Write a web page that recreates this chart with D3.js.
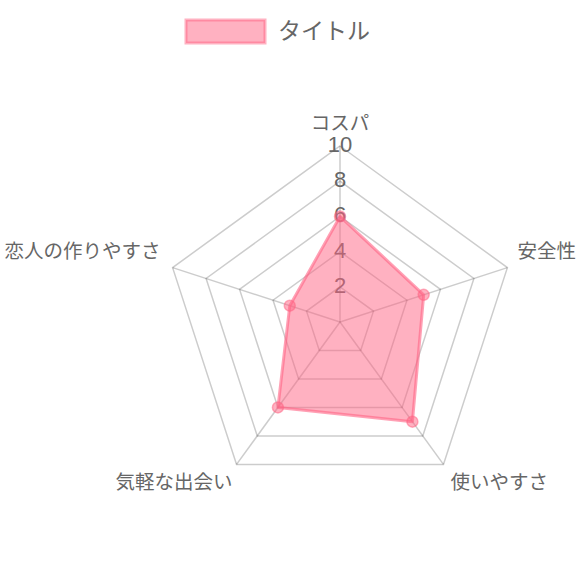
<!DOCTYPE html>
<html>
<head>
<meta charset="utf-8">
<script src="https://cdn.jsdelivr.net/npm/d3@7"></script>
<style>
  body { margin: 0; background: #fff; }
  text { font-family: "Liberation Sans", "Noto Sans CJK JP", sans-serif; fill: #666; }
</style>
</head>
<body>
<div id="chart"></div>
<script>
// chart data
let labels = ["コスパ", "安全性", "使いやすさ", "気軽な出会い", "恋人の作りやすさ"];
let values = [6, 5, 7, 6, 3];
let tickValues = [2, 4, 6, 8, 10];
let seriesName = "タイトル";

let svgWidth = 580;
let svgHeight = 580;
let center = { x: 340, y: 322 };
let radius = 176;

let svg = d3.select("#chart")
  .append("svg")
  .attr("width", svgWidth)
  .attr("height", svgHeight);

let rScale = d3.scaleLinear().domain([0, 10]).range([0, radius]);
let angle = d3.scaleLinear().domain([0, labels.length]).range([0, 2 * Math.PI]);

function pt(i, v) {
  let a = angle(i);
  return [center.x + rScale(v) * Math.sin(a), center.y - rScale(v) * Math.cos(a)];
}

let g = svg.append("g");

// grid pentagons
tickValues.forEach(t => {
  g.append("polygon")
    .attr("points", labels.map((d, i) => pt(i, t).join(",")).join(" "))
    .attr("fill", "none")
    .attr("stroke", "rgba(0,0,0,0.2)")
    .attr("stroke-width", 1.5);
});

// spokes
labels.forEach((d, i) => {
  let p = pt(i, 10);
  g.append("line")
    .attr("x1", center.x).attr("y1", center.y)
    .attr("x2", p[0]).attr("y2", p[1])
    .attr("stroke", "rgba(0,0,0,0.2)")
    .attr("stroke-width", 1.5);
});

// tick labels
g.selectAll(".tick")
  .data(tickValues)
  .enter()
  .append("text")
  .attr("x", center.x)
  .attr("y", d => center.y - rScale(d) - 2)
  .attr("dy", "0.36em")
  .attr("text-anchor", "middle")
  .style("font-size", "22px")
  .text(d => d);

// point labels
let labelPos = [
  { dx: 0, dy: -23, anchor: "middle" },
  { dx: 10, dy: -17, anchor: "start" },
  { dx: 7, dy: 18, anchor: "start" },
  { dx: -4, dy: 18, anchor: "end" },
  { dx: -12, dy: -17, anchor: "end" }
];
g.selectAll(".plabel")
  .data(labels)
  .enter()
  .append("text")
  .attr("x", (d, i) => pt(i, 10)[0] + labelPos[i].dx)
  .attr("y", (d, i) => pt(i, 10)[1] + labelPos[i].dy)
  .attr("dy", "0.36em")
  .attr("text-anchor", (d, i) => labelPos[i].anchor)
  .style("font-size", "19.5px")
  .text(d => d);

// data area
g.append("polygon")
  .attr("points", values.map((v, i) => pt(i, v).join(",")).join(" "))
  .attr("fill", "rgba(255,99,132,0.5)")
  .attr("stroke", "rgba(255,99,132,0.6)")
  .attr("stroke-width", 3)
  .attr("stroke-linejoin", "round");

g.selectAll(".pt")
  .data(values)
  .enter()
  .append("circle")
  .attr("cx", (d, i) => pt(i, d)[0])
  .attr("cy", (d, i) => pt(i, d)[1])
  .attr("r", 5.5)
  .attr("fill", "rgba(255,99,132,0.5)")
  .attr("stroke", "rgba(255,99,132,0.5)")
  .attr("stroke-width", 1.5);

// legend
svg.append("rect")
  .attr("x", 186).attr("y", 20)
  .attr("width", 79).attr("height", 23)
  .attr("fill", "rgba(255,99,132,0.5)")
  .attr("stroke", "rgba(255,99,132,0.5)")
  .attr("stroke-width", 3);
svg.append("text")
  .attr("x", 278).attr("y", 31)
  .attr("dy", "0.36em")
  .style("font-size", "23px")
  .text(seriesName);
</script>
</body>
</html>
